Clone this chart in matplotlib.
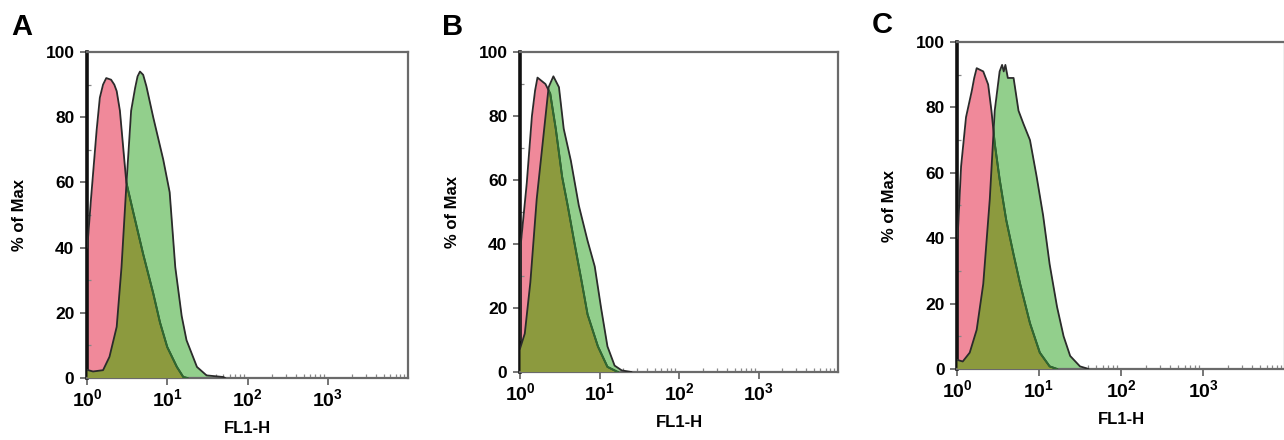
import numpy as np
import matplotlib
matplotlib.use("Agg")
import matplotlib.pyplot as plt
from matplotlib.patches import PathPatch
from matplotlib.ticker import FixedLocator, LogLocator, NullFormatter

plt.rcParams['font.family'] = ['Liberation Sans', 'DejaVu Sans']
plt.rcParams['mathtext.fontset'] = 'custom'
plt.rcParams['mathtext.rm'] = 'Liberation Sans:bold'
plt.rcParams['mathtext.bf'] = 'Liberation Sans:bold'
plt.rcParams['mathtext.it'] = 'Liberation Sans:bold'

# ---- data: log10(FL1-H) positions and % of Max ----
panel_labels = ["A", "B", "C"]

a_red_log = [0.0, 0.01, 0.05, 0.12, 0.16, 0.2, 0.24, 0.3, 0.34, 0.37, 0.41, 0.49, 0.575, 0.7, 0.825, 0.91, 1.0, 1.12, 1.2, 1.25]
a_red_pct = [40, 42, 55, 76, 86, 90, 92, 91.5, 90, 88, 82, 60, 51, 38, 26, 17, 9.5, 3.4, 0.3, 0]
a_grn_log = [0.0, 0.075, 0.2, 0.28, 0.37, 0.43, 0.49, 0.55, 0.6, 0.63, 0.66, 0.7, 0.74, 0.825, 0.95, 1.03, 1.1, 1.18, 1.24, 1.37, 1.49, 1.7, 1.72]
a_grn_pct = [2.5, 2.0, 2.4, 6.5, 15.7, 34, 59, 82, 89, 92.5, 94, 93, 89.5, 80, 67, 57, 34, 19, 11.6, 3.4, 0.8, 0.3, 0]

b_red_log = [0.0, 0.01, 0.085, 0.15, 0.19, 0.22, 0.27, 0.32, 0.38, 0.45, 0.53, 0.6, 0.68, 0.77, 0.85, 0.98, 1.1, 1.23]
b_red_pct = [10, 40, 59, 80, 88, 92, 91, 90, 87, 76, 61, 52, 41, 29, 18, 8, 1.6, 0]
b_grn_log = [0.0, 0.06, 0.13, 0.21, 0.3, 0.36, 0.42, 0.49, 0.55, 0.64, 0.74, 0.85, 0.94, 1.02, 1.1, 1.19, 1.28, 1.4]
b_grn_pct = [7.3, 12, 28, 54, 75, 89, 92.4, 89, 76, 66, 52, 41, 33, 20, 8, 2, 0.5, 0]

c_red_log = [0.0, 0.01, 0.05, 0.11, 0.18, 0.21, 0.24, 0.28, 0.32, 0.38, 0.42, 0.46, 0.52, 0.6, 0.69, 0.77, 0.89, 1.01, 1.13, 1.22]
c_red_pct = [40, 41.5, 62, 77, 85, 89, 92, 91.5, 91, 87, 79, 69, 58, 45.6, 35, 26, 14, 5, 0.8, 0]
c_grn_log = [0.0, 0.07, 0.155, 0.24, 0.32, 0.4, 0.46, 0.52, 0.55, 0.57, 0.59, 0.62, 0.69, 0.75, 0.81, 0.89, 0.97, 1.05, 1.13, 1.22, 1.3, 1.38, 1.5, 1.58, 1.6]
c_grn_pct = [2.8, 2.3, 5, 12, 26, 52, 79, 91, 93, 91, 93, 89, 89, 79, 75, 70, 59, 47, 32, 19, 10, 4, 0.8, 0.2, 0]

y_ticks = [0, 20, 40, 60, 80, 100]
x_decades = [0, 1, 2, 3]

panels = [
    (a_red_log, a_red_pct, a_grn_log, a_grn_pct),
    (b_red_log, b_red_pct, b_grn_log, b_grn_pct),
    (c_red_log, c_red_pct, c_grn_log, c_grn_pct),
]

# ---- layout (pixels) ----
W, H = 1284, 440
axes_px = [  # left, right, top, bottom
    (87, 408, 52, 378),
    (520, 838, 52, 372),
    (957, 1285, 42, 369),
]
letter_px = [(11, 35), (442, 35), (872, 33)]

PINK = '#f0899a'
GREEN = '#92cf8c'
OLIVE = '#8c9a3e'
EDGE = '#2b2b2b'
EDGE_IN_GREEN = '#2f6a30'
SPINE = '#6a6a6a'

fig = plt.figure(figsize=(W / 100, H / 100), dpi=100)

for i, ((rl, rp, gl, gp), (l, r, t, b)) in enumerate(zip(panels, axes_px)):
    ax = fig.add_axes([l / W, (H - b) / H, (r - l) / W, (b - t) / H])
    ax.set_xscale('log')
    xr = 10 ** np.asarray(rl)
    xg = 10 ** np.asarray(gl)
    yr = np.asarray(rp, float)
    yg = np.asarray(gp, float)

    ax.fill_between(xr, yr, 0, color=PINK, lw=0, zorder=1)
    gcoll = ax.fill_between(xg, yg, 0, color=GREEN, lw=0, zorder=2)
    gpatch = PathPatch(gcoll.get_paths()[0], transform=ax.transData)
    ocoll = ax.fill_between(xr, yr, 0, color=OLIVE, lw=0, zorder=3)
    ocoll.set_clip_path(gpatch)

    ax.plot(xr, yr, color=EDGE, lw=1.3, zorder=4, solid_joinstyle='round')
    inner, = ax.plot(xr, yr, color=EDGE_IN_GREEN, lw=1.4, zorder=5, solid_joinstyle='round')
    inner.set_clip_path(gpatch)
    ax.plot(xg, yg, color=EDGE, lw=1.3, zorder=6, solid_joinstyle='round')

    ax.set_xlim(1, 10 ** 4.0)
    ax.set_ylim(0, 100)

    for s in ['top', 'right', 'bottom']:
        ax.spines[s].set_color(SPINE)
        ax.spines[s].set_linewidth(1.6)
    ax.spines['left'].set_color('#111111')
    ax.spines['left'].set_linewidth(2.6)

    ax.yaxis.set_major_locator(FixedLocator(y_ticks))
    ax.yaxis.set_minor_locator(FixedLocator([10, 30, 50, 70, 90]))
    ax.set_yticklabels([str(v) for v in y_ticks], fontsize=12.5, fontweight='bold')
    ax.xaxis.set_major_locator(FixedLocator([10 ** d for d in x_decades]))
    ax.set_xticklabels([r'$\mathbf{10^{%d}}$' % d for d in x_decades], fontsize=14)
    ax.xaxis.set_minor_locator(LogLocator(base=10, subs=np.arange(2, 10)))
    ax.xaxis.set_minor_formatter(NullFormatter())

    ax.tick_params(axis='both', which='major', direction='out', length=5, width=1.3,
                   color=SPINE, pad=4)
    ax.tick_params(axis='both', which='minor', direction='in', length=3, width=0.9,
                   color='#888888')
    ax.tick_params(axis='x', which='major', pad=2)

    ax.set_ylabel('% of Max', fontsize=12, fontweight='bold', labelpad=13)
    ax.set_xlabel('FL1-H', fontsize=12, fontweight='bold', labelpad=8)

    lx, ly = letter_px[i]
    fig.text(lx / W, (H - ly) / H, panel_labels[i], fontsize=21, fontweight='bold',
             ha='left', va='baseline')

fig.savefig('out.png', dpi=100)
